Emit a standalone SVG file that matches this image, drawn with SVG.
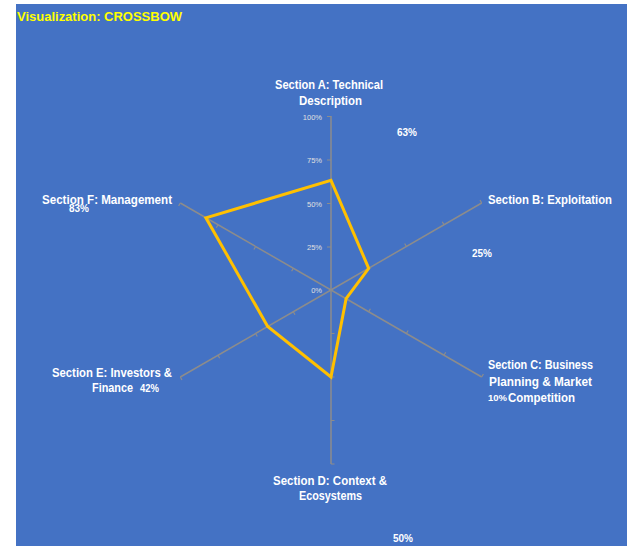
<svg xmlns="http://www.w3.org/2000/svg" width="627" height="546" viewBox="0 0 627 546">
<style>
.bg{fill:#4472C4}
.ax{stroke:#8C8C8C;stroke-width:1.5;fill:none}
.tk{stroke:#8C8C8C;stroke-width:1.2;fill:none}
.lbl{font-family:"Liberation Sans",Arial,sans-serif;font-weight:bold;font-size:12.5px;fill:#FFFFFF}
.pct{font-family:"Liberation Sans",Arial,sans-serif;font-weight:bold;font-size:10px;fill:#FFFFFF}
.val{font-family:"Liberation Sans",Arial,sans-serif;font-size:7.5px;fill:#E0E0E0;text-anchor:end}
.title{font-family:"Liberation Sans",Arial,sans-serif;font-weight:bold;font-size:13.5px;fill:#FFFF00}
.data{stroke:#FFC000;stroke-width:3;fill:none;stroke-linejoin:miter}
</style>
<rect class="bg" x="16" y="4" width="611" height="542"/>
<text class="title" x="17" y="21" textLength="165" lengthAdjust="spacingAndGlyphs">Visualization: CROSSBOW</text>

<g id="connectors">
  <!-- axes -->
  <line class="ax" x1="331" y1="290" x2="331" y2="116"/>
  <line class="ax" x1="331" y1="290" x2="481.7" y2="203"/>
  <line class="ax" x1="331" y1="290" x2="481.7" y2="377"/>
  <line class="ax" x1="331" y1="290" x2="331" y2="464"/>
  <line class="ax" x1="331" y1="290" x2="180.3" y2="377"/>
  <line class="ax" x1="331" y1="290" x2="180.3" y2="203"/>
  <!-- ticks axis A (left) -->
  <path class="tk" d="M331 116.5h-4M331 160h-4M331 203.5h-4M331 247h-4"/>
  <!-- ticks axis B -->
  <path class="tk" d="M368.7 268.3l-1.7 -3M406.4 246.5l-1.7 -3M444 224.8l-1.7 -3M481.7 203l-1.7 -3"/>
  <!-- ticks axis C -->
  <path class="tk" d="M368.7 311.7l1.7 -3M406.4 333.5l1.7 -3M444 355.2l1.7 -3M481.7 377l1.7 -3"/>
  <!-- ticks axis D -->
  <path class="tk" d="M331 333.5h3.5M331 377h3.5M331 420.5h3.5M331 464h3.5"/>
  <!-- ticks axis E -->
  <path class="tk" d="M293.3 311.7l1.7 3M255.6 333.5l1.7 3M218 355.2l1.7 3M180.3 377l1.7 3"/>
  <!-- ticks axis F -->
  <path class="tk" d="M293.3 268.3l-1.7 3M255.6 246.5l-1.7 3M218 224.8l-1.7 3M180.3 203l-1.7 3"/>
</g>

<g id="scale">
  <text class="val" x="322" y="119.5">100%</text>
  <text class="val" x="322" y="163">75%</text>
  <text class="val" x="322" y="206.5">50%</text>
  <text class="val" x="322" y="250">25%</text>
  <text class="val" x="322" y="293">0%</text>
</g>

<g id="series">
  <polygon class="data" points="331,180.4 368.7,268.3 346.1,298.7 331,377 267.7,326.5 205.9,217.8"/>
</g>

<g id="sectionA">
  <text class="lbl" x="275" y="89" textLength="108" lengthAdjust="spacingAndGlyphs">Section A: Technical</text>
  <text class="lbl" x="299" y="105" textLength="63" lengthAdjust="spacingAndGlyphs">Description</text>
  <text class="pct" x="397" y="136" textLength="20" lengthAdjust="spacingAndGlyphs">63%</text>
</g>
<g id="sectionB">
  <text class="lbl" x="488" y="204" textLength="124" lengthAdjust="spacingAndGlyphs">Section B: Exploitation</text>
  <text class="pct" x="472" y="257" textLength="20" lengthAdjust="spacingAndGlyphs">25%</text>
</g>
<g id="sectionC">
  <text class="lbl" x="488" y="369" textLength="105" lengthAdjust="spacingAndGlyphs">Section C: Business</text>
  <text class="lbl" x="489" y="386" textLength="103" lengthAdjust="spacingAndGlyphs">Planning &amp; Market</text>
  <text class="lbl" x="508" y="402" textLength="67" lengthAdjust="spacingAndGlyphs">Competition</text>
  <text class="pct" x="488" y="401" style="font-size:8.5px" textLength="19" lengthAdjust="spacingAndGlyphs">10%</text>
</g>
<g id="sectionD">
  <text class="lbl" x="273" y="485" textLength="114" lengthAdjust="spacingAndGlyphs">Section D: Context &amp;</text>
  <text class="lbl" x="299" y="500" textLength="63" lengthAdjust="spacingAndGlyphs">Ecosystems</text>
  <text class="pct" x="393" y="542" textLength="20" lengthAdjust="spacingAndGlyphs">50%</text>
</g>
<g id="sectionE">
  <text class="lbl" x="52" y="377" textLength="120" lengthAdjust="spacingAndGlyphs">Section E: Investors &amp;</text>
  <text class="lbl" x="92" y="392" textLength="41" lengthAdjust="spacingAndGlyphs">Finance</text>
  <text class="pct" x="140" y="392" textLength="19" lengthAdjust="spacingAndGlyphs">42%</text>
</g>
<g id="sectionF">
  <text class="lbl" x="42" y="204" textLength="130" lengthAdjust="spacingAndGlyphs">Section F: Management</text>
  <text class="pct" x="69" y="212" textLength="20" lengthAdjust="spacingAndGlyphs">83%</text>
</g>
</svg>
